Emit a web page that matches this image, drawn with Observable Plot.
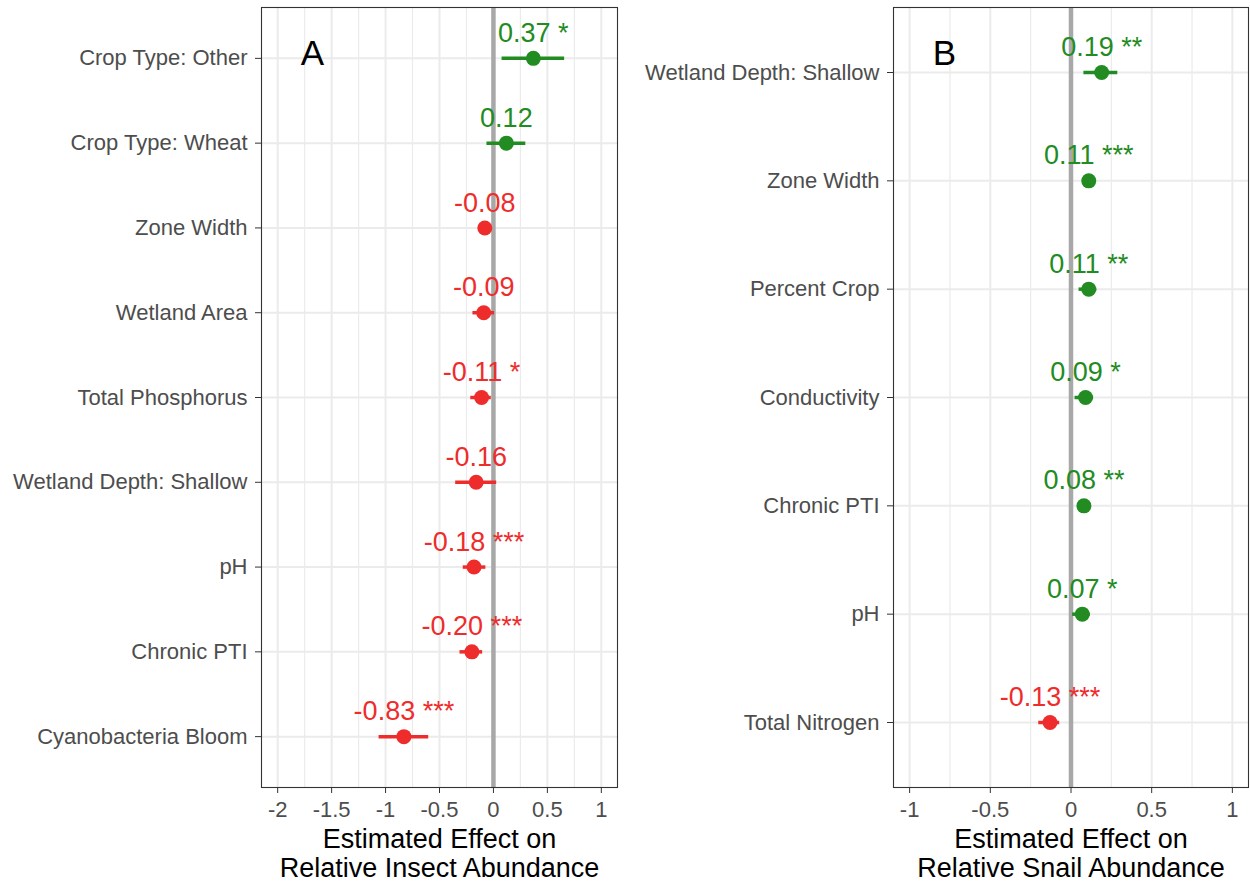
<!DOCTYPE html>
<html>
<head>
<meta charset="utf-8">
<script src="https://cdn.jsdelivr.net/npm/d3@7"></script>
<script src="https://cdn.jsdelivr.net/npm/@observablehq/plot@0.6"></script>
<style>
  body { margin: 0; background: white; }
  #wrap { display: flex; width: 1250px; height: 883px; }
</style>
</head>
<body>
<div id="wrap"></div>
<script>
// ---- Panel A: insects ----
const insectVars = ["Crop Type: Other","Crop Type: Wheat","Zone Width","Wetland Area","Total Phosphorus","Wetland Depth: Shallow","pH","Chronic PTI","Cyanobacteria Bloom"];
const insectEst  = [0.37, 0.12, -0.08, -0.09, -0.11, -0.16, -0.18, -0.20, -0.83];
const insectLo   = [0.08, -0.06, -0.12, -0.19, -0.21, -0.35, -0.28, -0.31, -1.06];
const insectHi   = [0.66, 0.30, -0.04, 0.01, -0.02, 0.03, -0.07, -0.10, -0.60];
const insectSig  = ["*", "", "", "", "*", "", "***", "***", "***"];
const insectTicks = [-2, -1.5, -1, -0.5, 0, 0.5, 1];
const insectMinor = [-1.75, -1.25, -0.75, -0.25, 0.25, 0.75];
const insectDomain = [-2.15, 1.15];

// ---- Panel B: snails ----
const snailVars = ["Wetland Depth: Shallow","Zone Width","Percent Crop","Conductivity","Chronic PTI","pH","Total Nitrogen"];
const snailEst  = [0.19, 0.11, 0.11, 0.09, 0.08, 0.07, -0.13];
const snailLo   = [0.08, 0.08, 0.05, 0.025, 0.05, 0.01, -0.20];
const snailHi   = [0.29, 0.14, 0.16, 0.14, 0.11, 0.12, -0.07];
const snailSig  = ["**", "***", "**", "*", "**", "*", "***"];
const snailTicks = [-1, -0.5, 0, 0.5, 1];
const snailMinor = [-0.75, -0.25, 0.25, 0.75];
const snailDomain = [-1.1, 1.1];

const GREEN = "#228b22";
const RED = "#ee2c2c";
const FONT = "'Liberation Sans', Arial, Helvetica, sans-serif";

function build(vars, est, lo, hi, sig) {
  return vars.map((v, i) => ({
    name: v, est: est[i], lo: lo[i], hi: hi[i],
    label: est[i].toFixed(2) + (sig[i] ? " " + sig[i] : ""),
    color: est[i] >= 0 ? GREEN : RED
  }));
}

function panel({data, vars, ticks, minor, domain, letter, title, width, marginLeft, marginRight}) {
  return Plot.plot({
    width, height: 883,
    marginLeft, marginRight, marginTop: 7, marginBottom: 96,
    style: {fontFamily: FONT, background: "white", overflow: "visible"},
    x: {domain, label: null},
    y: {type: "point", domain: vars, padding: 0.6, round: false, label: null},
    marks: [
      Plot.ruleX(minor, {stroke: "#ebebeb", strokeWidth: 1.2}),
      Plot.ruleX(ticks, {stroke: "#ebebeb", strokeWidth: 2}),
      Plot.ruleY(vars, {y: d => d, stroke: "#ebebeb", strokeWidth: 2}),
      Plot.ruleX([0], {stroke: "#a8a8a8", strokeWidth: 4.5}),
      Plot.ruleY(data, {y: "name", x1: "lo", x2: "hi", stroke: "color", strokeWidth: 3.5}),
      Plot.dot(data, {x: "est", y: "name", r: 7.5, fill: "color", stroke: null}),
      Plot.text(data, {x: "est", y: "name", text: "label", fill: "color", fontSize: 27, dy: -25, textAnchor: "middle"}),
      Plot.frame({stroke: "#333333", strokeWidth: 1.1}),
      Plot.axisY({tickSize: 6, tickPadding: 8, fontSize: 22, fill: "#4d4d4d", stroke: "#333333", label: null}),
      Plot.axisX({ticks, tickFormat: d => String(d), tickSize: 6, tickPadding: 8, fontSize: 22, fill: "#4d4d4d", stroke: "#333333", label: null}),
      Plot.text([title], {frameAnchor: "bottom", lineAnchor: "top", dy: 41, fontSize: 27, lineHeight: 1.04, fill: "black", textAnchor: "middle"}),
      Plot.text([letter], {frameAnchor: "top-left", lineAnchor: "top", dx: 51, dy: 33, fontSize: 35, fill: "black", textAnchor: "middle"})
    ]
  });
}

const wrap = document.getElementById("wrap");
wrap.appendChild(panel({
  data: build(insectVars, insectEst, insectLo, insectHi, insectSig),
  vars: insectVars, ticks: insectTicks, minor: insectMinor, domain: insectDomain,
  letter: "A", title: "Estimated Effect on\nRelative Insect Abundance",
  width: 630, marginLeft: 261, marginRight: 13
}));
wrap.appendChild(panel({
  data: build(snailVars, snailEst, snailLo, snailHi, snailSig),
  vars: snailVars, ticks: snailTicks, minor: snailMinor, domain: snailDomain,
  letter: "B", title: "Estimated Effect on\nRelative Snail Abundance",
  width: 620, marginLeft: 263, marginRight: 2
}));
</script>
</body>
</html>
